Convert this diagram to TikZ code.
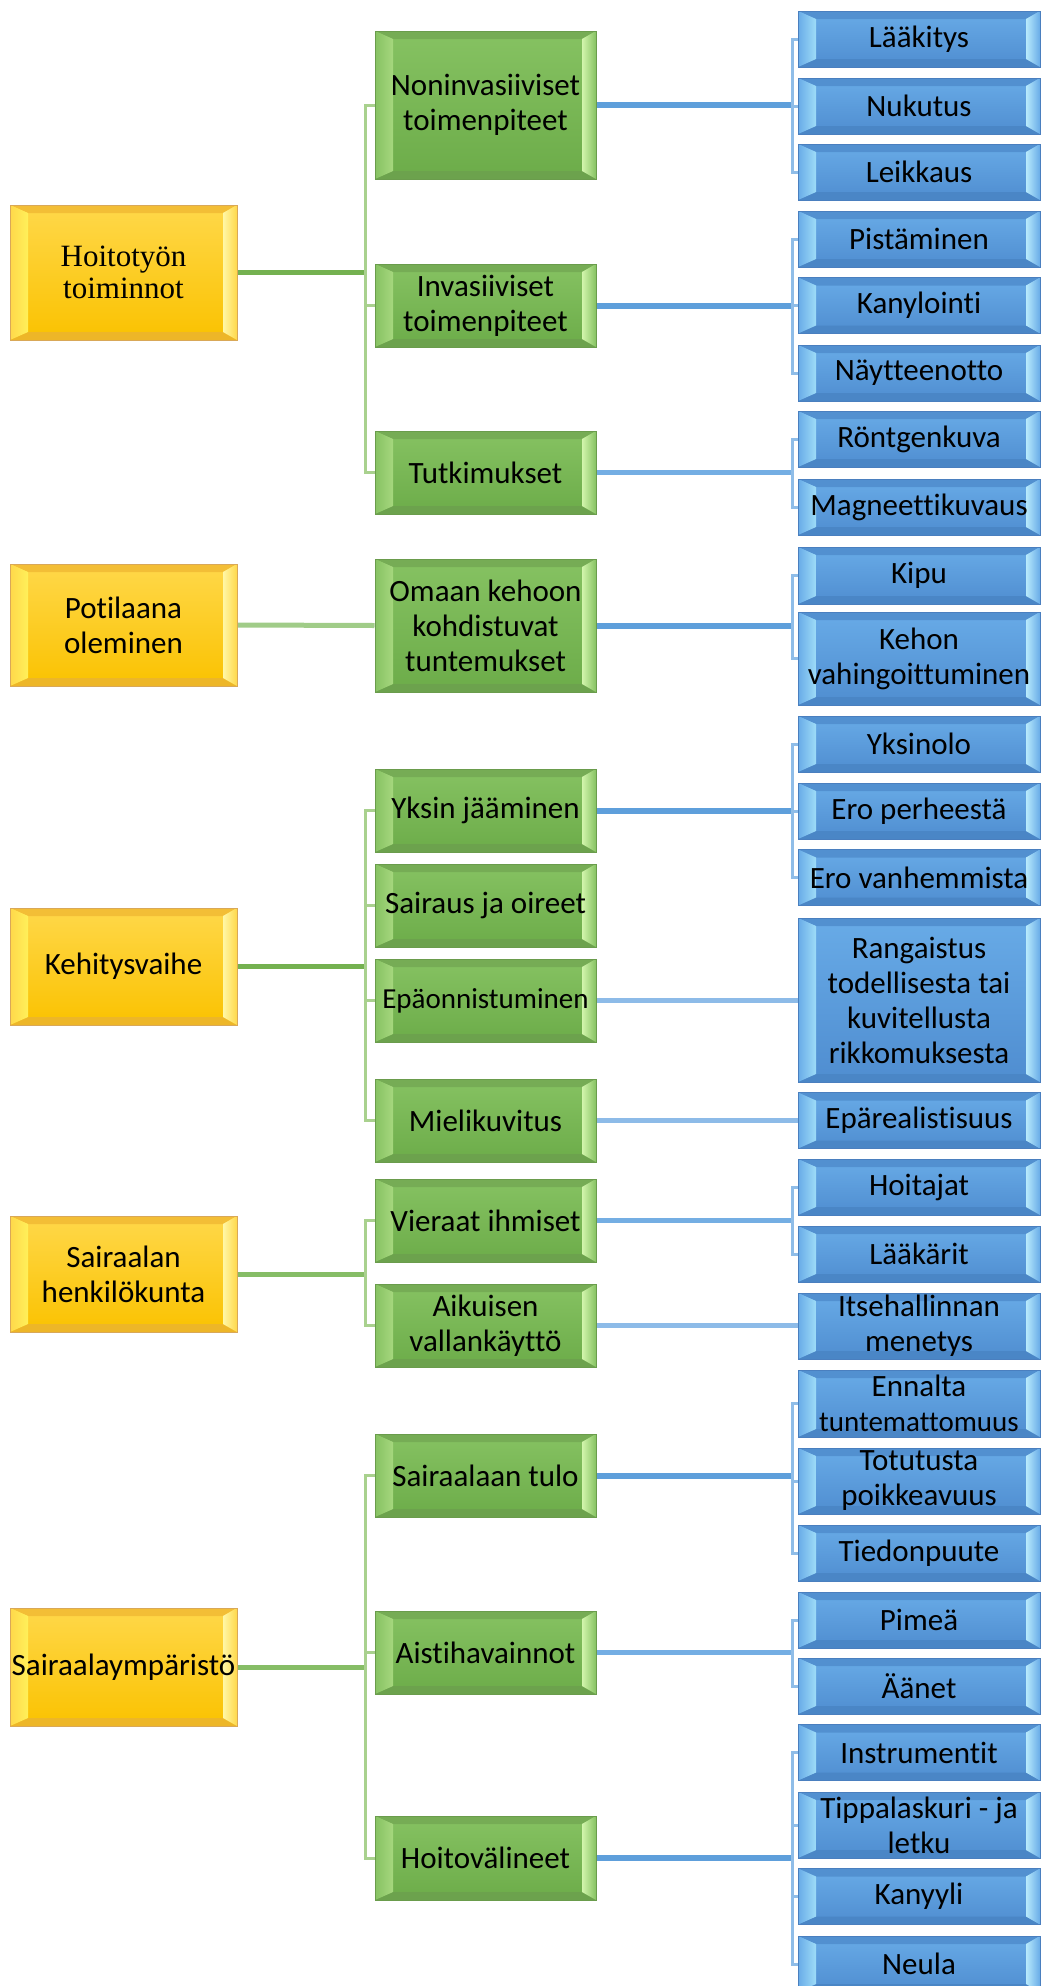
\documentclass[tikz,border=0pt]{standalone}
\usepackage{fontspec}
\setmainfont{Carlito}[Ligatures={NoCommon,NoContextual},RawFeature={-liga;-clig}]
\newfontfamily\serifbox{Liberation Serif}
\usetikzlibrary{calc}
\pgfdeclarelayer{back}
\pgfdeclarelayer{bg}
\pgfsetlayers{back,bg,main}
% box colours
\definecolor{yTop}{HTML}{FFD84A}
\definecolor{yBot}{HTML}{FAC200}
\definecolor{yBorder}{HTML}{D9A858}
\definecolor{yHiL}{HTML}{FFF05A}
\definecolor{yHiR}{HTML}{FFF7A6}
\definecolor{yDark}{HTML}{F3BE36}
\definecolor{yDarkB}{HTML}{EDB628}
\definecolor{gTop}{HTML}{86C262}
\definecolor{gBot}{HTML}{6CAC49}
\definecolor{gBorder}{HTML}{6A9C4C}
\definecolor{gHiL}{HTML}{A6D77E}
\definecolor{gHiR}{HTML}{D2F5AC}
\definecolor{gDark}{HTML}{76AC55}
\definecolor{gDarkB}{HTML}{6CA24D}
\definecolor{bTop}{HTML}{68ABE7}
\definecolor{bBot}{HTML}{4F8DD0}
\definecolor{bBorder}{HTML}{4A7FBF}
\definecolor{bHiL}{HTML}{9EDCF8}
\definecolor{bHiR}{HTML}{B8EAFC}
\definecolor{bDark}{HTML}{5290D0}
\definecolor{bDarkB}{HTML}{4A86C6}
% connector colours
\definecolor{gMain}{HTML}{74B150}
\definecolor{gMid}{HTML}{86BD66}
\definecolor{gLight}{HTML}{A0CC88}
\definecolor{gBus}{HTML}{A9D18E}
\definecolor{bMain}{HTML}{5E9FDB}
\definecolor{bMid}{HTML}{74AEE3}
\definecolor{bLight}{HTML}{8DBBE8}
\definecolor{bBus}{HTML}{8FBDE8}
\newcommand\boxfont{\fontsize{31}{35}\selectfont}
\newcommand\smallboxfont{\fontsize{29}{35}\selectfont}
\tikzset{
  box/.style={rectangle, inner sep=0pt, align=center, font=\boxfont,
    draw=#1Border, line width=1pt, top color=#1Top, bottom color=#1Bot,
    path picture={
      \coordinate (@nw) at (path picture bounding box.north west);
      \coordinate (@ne) at (path picture bounding box.north east);
      \coordinate (@sw) at (path picture bounding box.south west);
      \coordinate (@se) at (path picture bounding box.south east);
      \fill[#1Dark] (@nw) -- (@ne) -- ([shift={(-14,8)}]@ne) -- ([shift={(18,8)}]@nw) -- cycle;
      \fill[#1DarkB] (@sw) -- (@se) -- ([shift={(-14,-8)}]@se) -- ([shift={(18,-8)}]@sw) -- cycle;
      \shade[left color=#1Top, right color=#1HiL] (@nw) -- ([shift={(18,8)}]@nw) -- ([shift={(18,-8)}]@sw) -- (@sw) -- cycle;
      \shade[left color=#1HiR, right color=#1Top] (@ne) -- ([shift={(-14,8)}]@ne) -- ([shift={(-14,-8)}]@se) -- (@se) -- cycle;
    }},
  yelbox/.style={box=y, minimum width=227},
  grnbox/.style={box=g, minimum width=221, minimum height=83},
  blubox/.style={box=b, minimum width=242, minimum height=56},
  gmain/.style={draw=gMain, line width=5pt},
  gmid/.style={draw=gMid, line width=5pt},
  glight/.style={draw=gLight, line width=5pt},
  gbus/.style={draw=gBus, line width=3pt},
  bmain/.style={draw=bMain, line width=6pt},
  bmid/.style={draw=bMid, line width=5pt},
  blight/.style={draw=bLight, line width=5pt},
  bbus/.style={draw=bBus, line width=3pt},
}
\begin{document}
\begin{tikzpicture}[x=1pt,y=-1pt]
\clip (0,0) rectangle (1042,1986);
\begin{pgfonlayer}{back}
\fill[white] (0,0) rectangle (1042,1986);
\end{pgfonlayer}
\coordinate (gx) at (365,0);
\coordinate (bx) at (792,0);
% yellow boxes
\node[yelbox, minimum height=135, font=\serifbox\fontsize{31}{32}\selectfont] (y1) at (123.5,272.5) {Hoitotyön\\toiminnot};
\node[yelbox, minimum height=122] (y2) at (123.5,625) {Potilaana\\oleminen};
\node[yelbox, minimum height=117] (y3) at (123.5,966.5) {Kehitysvaihe};
\node[yelbox, minimum height=116] (y4) at (123.5,1274) {Sairaalan\\henkilökunta};
\node[yelbox, minimum height=118] (y5) at (123.5,1667) {Sairaalaympäristö};
% green boxes
\node[grnbox, minimum height=148] (g11) at (485.5,105) {Noninvasiiviset\\toimenpiteet};
\node[grnbox] (g12) at (485.5,305.5) {Invasiiviset\\toimenpiteet};
\node[grnbox] (g13) at (485.5,472.5) {Tutkimukset};
\node[grnbox, minimum height=133] (g21) at (485.5,625.5) {Omaan kehoon\\kohdistuvat\\tuntemukset};
\node[grnbox] (g31) at (485.5,810.5) {Yksin jääminen};
\node[grnbox] (g32) at (485.5,905.5) {Sairaus ja oireet};
\node[grnbox, font=\smallboxfont] (g33) at (485.5,1000.5) {Epäonnistuminen};
\node[grnbox] (g34) at (485.5,1120.5) {Mielikuvitus};
\node[grnbox] (g41) at (485.5,1220.5) {Vieraat ihmiset};
\node[grnbox] (g42) at (485.5,1325.5) {Aikuisen\\vallankäyttö};
\node[grnbox] (g51) at (485.5,1475.5) {Sairaalaan tulo};
\node[grnbox] (g52) at (485.5,1652.5) {Aistihavainnot};
\node[grnbox, minimum height=84] (g53) at (485.5,1858) {Hoitovälineet};
% blue boxes
\node[blubox] (b111) at (919,39) {Lääkitys};
\node[blubox] (b112) at (919,106) {Nukutus};
\node[blubox] (b113) at (919,172) {Leikkaus};
\node[blubox] (b121) at (919,239) {Pistäminen};
\node[blubox] (b122) at (919,305.5) {Kanylointi};
\node[blubox] (b123) at (919,373) {Näytteenotto};
\node[blubox] (b131) at (919,439) {Röntgenkuva};
\node[blubox] (b132) at (919,507) {Magneettikuvaus};
\node[blubox, minimum height=57] (b211) at (919,575.5) {Kipu};
\node[blubox, minimum height=93] (b212) at (919,658.5) {Kehon\\vahingoittuminen};
\node[blubox] (b311) at (919,744) {Yksinolo};
\node[blubox] (b312) at (919,811) {Ero perheestä};
\node[blubox] (b313) at (919,877.5) {Ero vanhemmista};
\node[blubox, minimum height=164] (b331) at (919,1000) {Rangaistus\\todellisesta tai\\kuvitellusta\\rikkomuksesta};
\node[blubox] (b341) at (919,1120.5) {Epärealistisuus};
\node[blubox] (b411) at (919,1187) {Hoitajat};
\node[blubox] (b412) at (919,1254) {Lääkärit};
\node[blubox, minimum height=66] (b421) at (919,1326) {Itsehallinnan\\menetys};
\node[blubox, minimum height=67] (b511) at (919,1403.5) {Ennalta\\\smallboxfont tuntemattomuus};
\node[blubox, minimum height=66] (b512) at (919,1481) {Totutusta\\poikkeavuus};
\node[blubox] (b513) at (919,1553) {Tiedonpuute};
\node[blubox] (b521) at (919,1620) {Pimeä};
\node[blubox] (b522) at (919,1686) {Äänet};
\node[blubox] (b531) at (919,1752.5) {Instrumentit};
\node[blubox, minimum height=66] (b532) at (919,1825) {Tippalaskuri - ja\\letku};
\node[blubox] (b533) at (919,1896.5) {Kanyyli};
\node[blubox] (b534) at (919,1964) {Neula};
\begin{pgfonlayer}{bg}
% green connectors
\draw[gmain] (y1.east) -- (y1.east -| gx);
\draw[gbus] (g11.west) -- (g11.west -| gx) -- (g13.west -| gx) -- (g13.west);
\draw[gbus] (g12.west) -- (g12.west -| gx);
\draw[glight] (y2.east) -- (g21.west);
\draw[gmain] (y3.east) -- (y3.east -| gx);
\draw[gbus] (g31.west) -- (g31.west -| gx) -- (g34.west -| gx) -- (g34.west);
\draw[gbus] (g32.west) -- (g32.west -| gx);
\draw[gbus] (g33.west) -- (g33.west -| gx);
\draw[gmid] (y4.east) -- (y4.east -| gx);
\draw[gbus] (g41.west) -- (g41.west -| gx) -- (g42.west -| gx) -- (g42.west);
\draw[gmid] (y5.east) -- (y5.east -| gx);
\draw[gbus] (g51.west) -- (g51.west -| gx) -- (g53.west -| gx) -- (g53.west);
\draw[gbus] (g52.west) -- (g52.west -| gx);
% blue connectors
\draw[bmain] (g11.east) -- (g11.east -| bx);
\draw[bbus] (b111.west) -- (b111.west -| bx) -- (b113.west -| bx) -- (b113.west);
\draw[bbus] (b112.west) -- (b112.west -| bx);
\draw[bmain] (g12.east) -- (g12.east -| bx);
\draw[bbus] (b121.west) -- (b121.west -| bx) -- (b123.west -| bx) -- (b123.west);
\draw[bbus] (b122.west) -- (b122.west -| bx);
\draw[bmid] (g13.east) -- (g13.east -| bx);
\draw[bbus] (b131.west) -- (b131.west -| bx) -- (b132.west -| bx) -- (b132.west);
\draw[bmain] (g21.east) -- (g21.east -| bx);
\draw[bbus] (b211.west) -- (b211.west -| bx) -- (b212.west -| bx) -- (b212.west);
\draw[bmain] (g31.east) -- (g31.east -| bx);
\draw[bbus] (b311.west) -- (b311.west -| bx) -- (b313.west -| bx) -- (b313.west);
\draw[bbus] (b312.west) -- (b312.west -| bx);
\draw[blight] (g33.east) -- (g33.east -| b331.west);
\draw[blight] (g34.east) -- (b341.west);
\draw[bmid] (g41.east) -- (g41.east -| bx);
\draw[bbus] (b411.west) -- (b411.west -| bx) -- (b412.west -| bx) -- (b412.west);
\draw[blight] (g42.east) -- (g42.east -| b421.west);
\draw[bmain] (g51.east) -- (g51.east -| bx);
\draw[bbus] (b511.west) -- (b511.west -| bx) -- (b513.west -| bx) -- (b513.west);
\draw[bbus] (b512.west) -- (b512.west -| bx);
\draw[bmid] (g52.east) -- (g52.east -| bx);
\draw[bbus] (b521.west) -- (b521.west -| bx) -- (b522.west -| bx) -- (b522.west);
\draw[bmain] (g53.east) -- (g53.east -| bx);
\draw[bbus] (b531.west) -- (b531.west -| bx) -- (b534.west -| bx) -- (b534.west);
\draw[bbus] (b532.west) -- (b532.west -| bx);
\draw[bbus] (b533.west) -- (b533.west -| bx);
\end{pgfonlayer}
\end{tikzpicture}
\end{document}
